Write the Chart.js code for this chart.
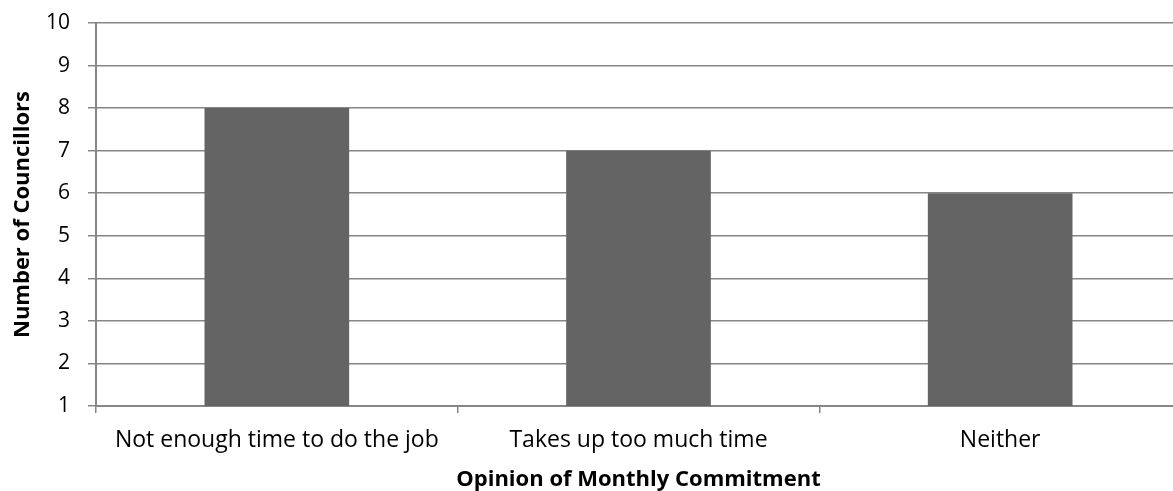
<!DOCTYPE html>
<html>
<head>
<meta charset="utf-8">
<script src="https://cdn.jsdelivr.net/npm/chart.js@4/dist/chart.umd.min.js"></script>
<style>
  html, body { margin: 0; padding: 0; background: #fff; overflow: hidden; }
  #wrap { position: relative; width: 1190px; height: 491px; }
</style>
</head>
<body>
<div id="wrap"><canvas id="c"></canvas></div>
<script>
const categories = ["Not enough time to do the job", "Takes up too much time", "Neither"];
const councillors = [8, 7, 6];
const yTicks = [1, 2, 3, 4, 5, 6, 7, 8, 9, 10];
const xTitle = "Opinion of Monthly Commitment";
const yTitle = "Number of Councillors";

const FONT = "'Open Sans', 'Liberation Sans', sans-serif";

new Chart(document.getElementById('c'), {
  type: 'bar',
  data: {
    labels: categories,
    datasets: [{
      data: councillors,
      backgroundColor: '#646464',
      borderWidth: 0,
      categoryPercentage: 1.0,
      barPercentage: 0.4
    }]
  },
  options: {
    responsive: true,
    maintainAspectRatio: false,
    animation: false,
    layout: { padding: { top: 23, right: 9, left: 0, bottom: 0 } },
    plugins: { legend: { display: false }, tooltip: { enabled: false } },
    scales: {
      x: {
        offset: true,
        grid: { offset: true, drawOnChartArea: false, color: '#868686', tickLength: 7, lineWidth: 1.5 },
        border: { color: '#868686', width: 2 },
        ticks: { color: '#000', font: { family: FONT, size: 23 }, padding: 14, maxRotation: 0 },
        title: { display: true, text: xTitle, color: '#000', font: { family: FONT, size: 22, weight: 'bold' }, padding: { top: 0, bottom: -2 } },
        afterFit: (axis) => { axis.height = 85; axis.paddingLeft = 0; axis.paddingRight = 0; }
      },
      y: {
        min: 1, max: 10,
        afterBuildTicks: (axis) => { axis.ticks = yTicks.map(v => ({ value: v })); },
        grid: { color: '#868686', tickLength: 8, lineWidth: 1.5 },
        border: { color: '#868686', width: 2 },
        ticks: { color: '#000', font: { family: FONT, size: 21 }, padding: 18 },
        title: { display: true, text: yTitle, color: '#000', font: { family: FONT, size: 22, weight: 'bold' }, padding: { top: 10, bottom: 0 } },
        afterFit: (axis) => { axis.width = 96; axis.paddingTop = 0; axis.paddingBottom = 0; }
      }
    }
  }
});
</script>
</body>
</html>
